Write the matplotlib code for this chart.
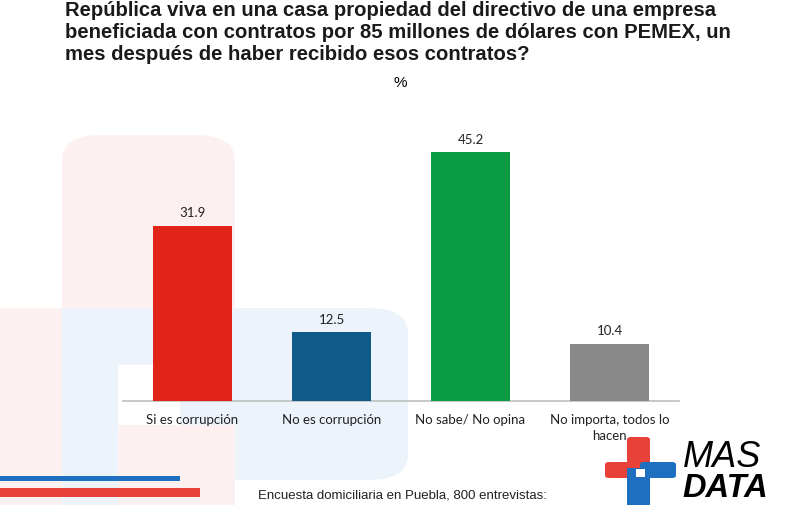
import matplotlib
matplotlib.use("Agg")
import matplotlib.pyplot as plt
from matplotlib.patches import FancyBboxPatch, Rectangle

categorias = ["Si es corrupción", "No es corrupción", "No sabe/ No opina",
              "No importa, todos lo\nhacen"]
valores = [31.9, 12.5, 45.2, 10.4]
colores = ["#e02518", "#0e5b8a", "#0a9a43", "#898989"]

titulo = ("República viva en una casa propiedad del directivo de una empresa\n"
          "beneficiada con contratos por 85 millones de dólares con PEMEX, un\n"
          "mes después de haber recibido esos contratos?")
nota = "Encuesta domiciliaria en Puebla, 800 entrevistas:"

W, H = 800, 505
fig = plt.figure(figsize=(W / 100, H / 100), dpi=100)
fig.patch.set_facecolor("white")


def px_rect(x0, y0, x1, y1, color, rounded=0, z=0):
    # rectangle en pixels (origine en haut à gauche)
    if rounded:
        p = FancyBboxPatch((x0 / W, 1 - y1 / H), (x1 - x0) / W, (y1 - y0) / H,
                           boxstyle=f"round,pad=0,rounding_size={rounded / W}",
                           transform=fig.transFigure, color=color, lw=0, zorder=z)
    else:
        p = Rectangle((x0 / W, 1 - y1 / H), (x1 - x0) / W, (y1 - y0) / H,
                      transform=fig.transFigure, color=color, lw=0, zorder=z)
    fig.patches.append(p)


# fond décoratif pâle
rose = "#fdf0f0"
bleu = "#ecf3fa"
px_rect(62, 135, 235, 560, rose, rounded=40, z=-5)
px_rect(62, 308, 408, 480, bleu, rounded=40, z=-5)
px_rect(62, 308, 150, 505, bleu, z=-4)
px_rect(0, 308, 62, 505, rose, z=-4)
px_rect(118, 425, 235, 505, rose, z=-4)
px_rect(118, 365, 180, 425, "white", z=-3)

# lignes décoratives en bas à gauche
px_rect(0, 476, 180, 481, "#1f6fc0", z=2)
px_rect(0, 488, 200, 497, "#e8413a", z=2)

# graphique
ax = fig.add_axes([123 / W, (H - 401) / H, 556 / W, 275 / H])
ax.set_zorder(5)
ax.patch.set_alpha(0)
x = range(len(categorias))
bars = ax.bar(x, valores, width=0.575, color=colores, zorder=3)
for b, v in zip(bars, valores):
    ax.text(b.get_x() + b.get_width() / 2, v + 1.2, f"{v:.1f}",
            ha="center", va="bottom", fontsize=9.5, family="Lato",
            color="#222222")
ax.set_xlim(-0.5, 3.5)
ax.set_ylim(0, 50)
ax.set_xticks(list(x))
ax.set_xticklabels(categorias, fontsize=9.5, family="Lato",
                   linespacing=1.45, color="#222222")
ax.tick_params(axis="x", length=0, pad=9)
ax.set_yticks([])
for s in ["top", "right", "left"]:
    ax.spines[s].set_visible(False)
ax.spines["bottom"].set_color("#bfbfbf")
ax.spines["bottom"].set_linewidth(1.2)

# textes
fig.text(65 / W, 1 - 1.5 / H, titulo, ha="left", va="top", fontsize=14.6,
         fontweight="bold", family="Liberation Sans", color="#1a1a1a",
         linespacing=1.17)
fig.text(400 / W, 1 - 83 / H, "%", ha="center", va="center", fontsize=11,
         family="Liberation Sans")
fig.text(258 / W, 1 - 496 / H, nota, ha="left", va="center", fontsize=9.5,
         family="Liberation Sans", color="#222222")

# logo MAS DATA
rojo_l = "#e8413a"
azul_l = "#1f6fc0"
px_rect(627, 437, 650, 475, rojo_l, rounded=4, z=6)
px_rect(605, 462, 640, 478, rojo_l, rounded=4, z=6)
px_rect(640, 462, 676, 478, azul_l, rounded=4, z=6)
px_rect(627, 468, 650, 510, azul_l, z=6)
px_rect(636, 469, 645, 477, "white", z=7)
fig.text(683 / W, 1 - 467 / H, "MAS", ha="left", va="baseline", fontsize=26,
         style="italic", family="Liberation Sans", color="black", zorder=8)
fig.text(682 / W, 1 - 497 / H, "DATA", ha="left", va="baseline", fontsize=23.5,
         style="italic", fontweight="bold", family="Liberation Sans",
         color="black", zorder=8)

fig.savefig("out.png", dpi=100)
